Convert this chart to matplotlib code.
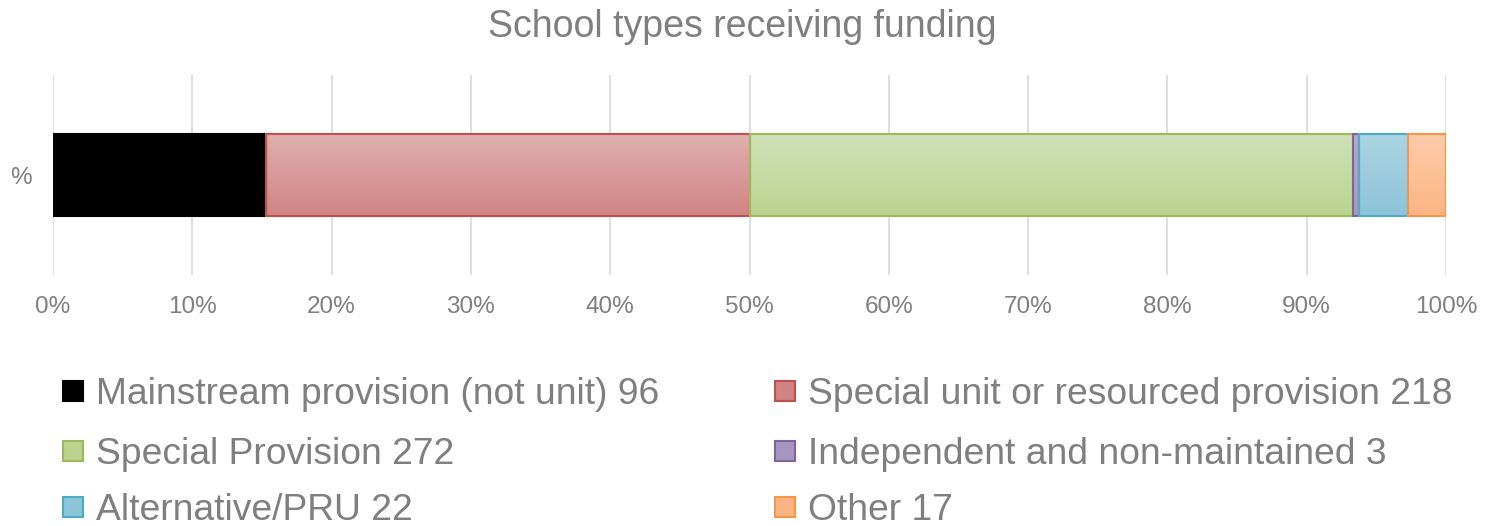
import numpy as np
import matplotlib
matplotlib.use("Agg")
import matplotlib.pyplot as plt
from matplotlib.colors import LinearSegmentedColormap
from matplotlib.patches import Rectangle

plt.rcParams["font.family"] = ["Liberation Sans", "DejaVu Sans"]

# данные
categories = [
    "Mainstream provision (not unit)",
    "Special unit or resourced provision",
    "Special Provision",
    "Independent and non-maintained",
    "Alternative/PRU",
    "Other",
]
counts = [96, 218, 272, 3, 22, 17]
row_label = "%"
title = "School types receiving funding"

# цвета: верх градиента, низ градиента, рамка
top_colors = ["#000000", "#E0AFAF", "#D0E0B8", "#B7A8CC", "#ABD4E2", "#FDCBAA"]
bottom_colors = ["#000000", "#D08484", "#BCD38F", "#A896C2", "#8CC4D8", "#FBB585"]
edge_colors = ["#000000", "#C0504D", "#9BBB59", "#8064A2", "#4BACC6", "#F79646"]

TEXT = "#7F7F7F"

fig = plt.figure(figsize=(14.85, 5.26), dpi=100)
ax = fig.add_axes([53 / 1485, 1 - 275 / 526, (1446 - 53) / 1485, 200 / 526])

total = sum(counts)
shares = np.array(counts) / total
lefts = np.concatenate([[0], np.cumsum(shares)[:-1]])
bar_h = 0.41

for left, w, c_top, c_bot, ec in zip(lefts, shares, top_colors, bottom_colors, edge_colors):
    cmap = LinearSegmentedColormap.from_list("g", [c_bot, c_top])
    grad = np.linspace(0, 1, 100).reshape(-1, 1)
    ax.imshow(grad, cmap=cmap, origin="lower", aspect="auto",
              extent=[left, left + w, -bar_h / 2, bar_h / 2], zorder=2)
    ax.add_patch(Rectangle((left, -bar_h / 2), w, bar_h, facecolor="none",
                           edgecolor=ec, linewidth=1.5, zorder=3))

ax.set_xlim(0, 1)
ax.set_ylim(-0.5, 0.5)
ax.set_xticks(np.arange(0, 1.01, 0.1))
ax.set_xticklabels([f"{int(round(t * 100))}%" for t in np.arange(0, 1.01, 0.1)])
ax.set_yticks([0])
ax.set_yticklabels([row_label])
ax.tick_params(length=0, labelsize=17.5, colors=TEXT)
ax.tick_params(axis="x", pad=15)
ax.tick_params(axis="y", pad=15)
ax.grid(axis="x", color="#D9D9D9", linewidth=1.2, zorder=0)
ax.set_axisbelow(True)
for s in ax.spines.values():
    s.set_visible(False)

fig.text(0.5, 1 - 27 / 526, title, ha="center", va="center", fontsize=27, color=TEXT)

# легенда вручную, по строкам
col_x = [63, 775]
row_y = [391, 451, 507]
box = 20
for i, (cat, n) in enumerate(zip(categories, counts)):
    x = col_x[i % 2]
    y = row_y[i // 2]
    fc = top_colors[i] if i == 0 else bottom_colors[i]
    fig.add_artist(Rectangle((x / 1485, (526 - y - box / 2) / 526), box / 1485, box / 526,
                             facecolor=fc, edgecolor=edge_colors[i], linewidth=1.5,
                             transform=fig.transFigure))
    fig.text((x + box + 13) / 1485, 1 - y / 526, f"{cat} {n}", ha="left", va="center_baseline",
             fontsize=26.8, color=TEXT)

fig.savefig("out.png", dpi=100)
